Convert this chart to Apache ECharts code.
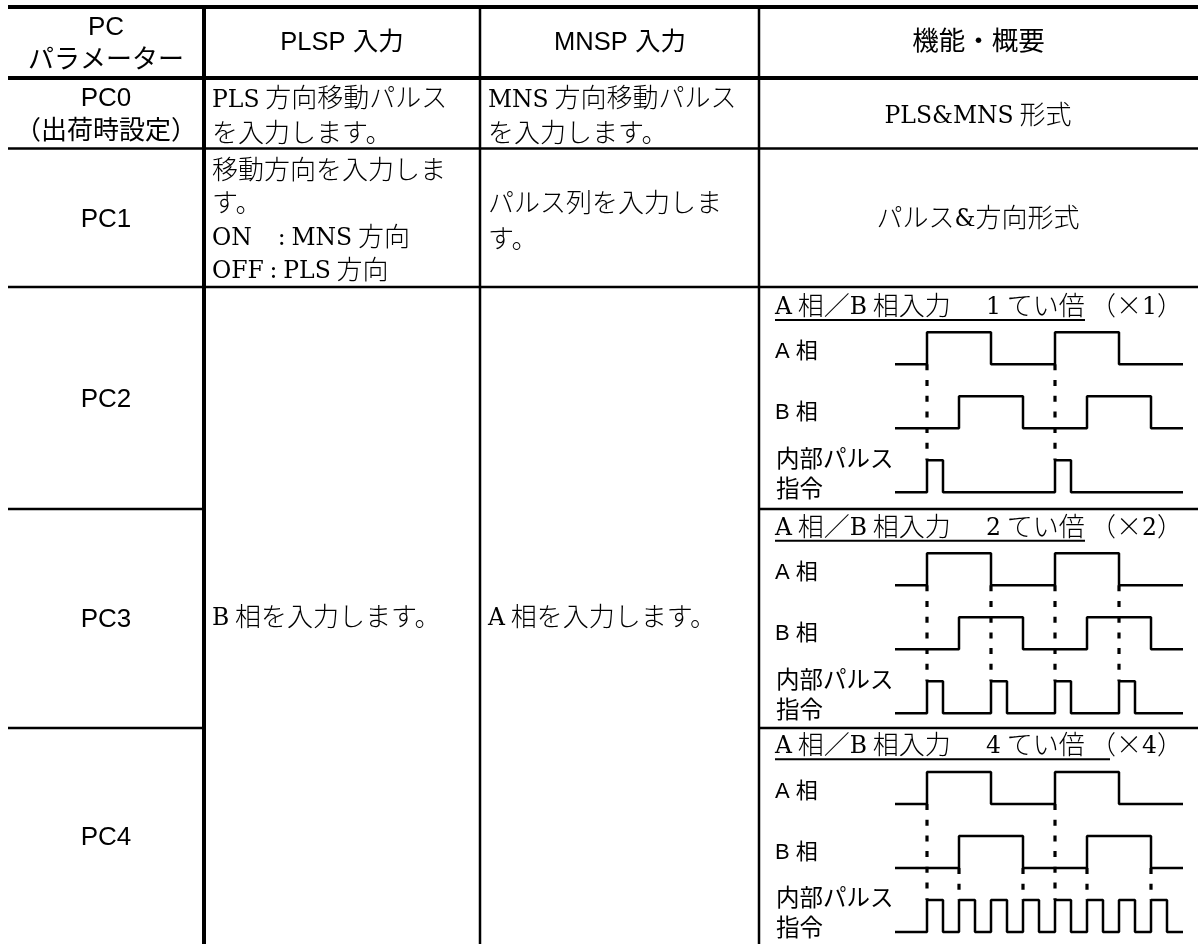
<!DOCTYPE html>
<html>
<head>
<meta charset="utf-8">
<style>
  html, body { margin: 0; padding: 0; background: #fff; }
  #main { width: 1198px; height: 944px; }
</style>
<script src="https://cdn.jsdelivr.net/npm/echarts@6/dist/echarts.min.js"></script>
</head>
<body>
<div id="main"></div>
<script>
// signals as [time, level] change points, one time unit = a quarter period of the A phase
const phaseA = [[-1, 0], [0, 1], [2, 0], [4, 1], [6, 0], [8, 0]];
const phaseB = [[-1, 0], [1, 1], [3, 0], [5, 1], [7, 0], [8, 0]];
const pulseX1 = [[-1, 0], [0, 1], [0.5, 0], [4, 1], [4.5, 0], [8, 0]];
const pulseX2 = [[-1, 0], [0, 1], [0.5, 0], [2, 1], [2.5, 0], [4, 1], [4.5, 0], [6, 1], [6.5, 0], [8, 0]];
const pulseX4 = [[-1, 0], [0, 1], [0.5, 0], [1, 1], [1.5, 0], [2, 1], [2.5, 0], [3, 1], [3.5, 0], [4, 1], [4.5, 0], [5, 1], [5.5, 0], [6, 1], [6.5, 0], [7, 1], [7.5, 0], [8, 0]];

// dotted guides: from which row they start
const guidesX1 = [0, 4];
const guidesX2 = [0, 2, 4, 6];
const guidesX4FromA = [0, 4];
const guidesX4FromB = [1, 3, 5, 7];

const titleLeft = "A 相／B 相入力";
const titleRate = ["1 てい倍", "2 てい倍", "4 てい倍"];
const titleSuffix = ["（×1）", "（×2）", "（×4）"];
const signalLabels = ["A 相", "B 相", "内部パルス", "指令"];

const headers = ["PC\nパラメーター", "PLSP 入力", "MNSP 入力", "機能・概要"];
const pcNames = ["PC0\n（出荷時設定）", "PC1", "PC2", "PC3", "PC4"];

const SANS = "'Liberation Sans','Noto Sans CJK JP'";
const CJK = "'Noto Sans CJK JP'";

const colX = [204, 480, 759];
const rowY = [78, 148.5, 287, 509, 728];
const diagramTop = [332.3, 553.3, 772];
const underlineY = [320, 540.7, 759.3];
const underlineEnd = [1085, 1085, 1110];

const chart = echarts.init(document.getElementById("main"));

function ln(x1, y1, x2, y2, w) {
  return { type: "line", shape: { x1, y1, x2, y2 }, style: { stroke: "#000", lineWidth: w } };
}
function sans(x, y, text, size, align) {
  return {
    type: "text", x, y,
    style: {
      text, fill: "#000", font: size + "px " + SANS,
      align: align || "center", verticalAlign: "middle", lineHeight: 33
    }
  };
}
// body text: latin runs go in a serif face, the rest in the CJK font
function serif(x, y, text, align, lineH) {
  const h = lineH || 33;
  return {
    type: "text", x, y: y - 1,
    style: {
      text: text.split("\n").map(s => s.replace(/[A-Za-z0-9&:]+/g, m => "{l|" + m + "}")).join("\n"),
      fill: "#000", fontFamily: CJK, fontSize: 26, fontWeight: 300,
      align: align || "center", verticalAlign: "middle", lineHeight: h,
      rich: {
        // top padding pushes the latin down onto the CJK baseline
        l: { fontFamily: "'DejaVu Serif'", fontSize: 23.5, fontWeight: 300, lineHeight: h, fill: "#000", padding: [6, 0, 0, 0] }
      }
    }
  };
}

const graphic = [
  ln(8, 7, 1198, 7, 4),
  ln(8, rowY[0], 1198, rowY[0], 4),
  ln(8, rowY[1], 1198, rowY[1], 2.5),
  ln(8, rowY[2], 1198, rowY[2], 2.5),
  ln(8, rowY[3], colX[0], rowY[3], 2.5),
  ln(colX[2], rowY[3], 1198, rowY[3], 2.5),
  ln(8, rowY[4], colX[0], rowY[4], 2.5),
  ln(colX[2], rowY[4], 1198, rowY[4], 2.5),
  ln(colX[0], 7, colX[0], 944, 4),
  ln(colX[1], 7, colX[1], 944, 2.5),
  ln(colX[2], 7, colX[2], 944, 2.5),

  sans(106, 44, headers[0], 26),
  sans(342, 43, headers[1], 25.5),
  sans(620, 43, headers[2], 25.5),
  sans(978.5, 43, headers[3], 26.5),

  sans(106, 115, pcNames[0], 26),
  sans(106, 220, pcNames[1], 26),
  sans(106, 400, pcNames[2], 26),
  sans(106, 620, pcNames[3], 26),
  sans(106, 838, pcNames[4], 26),

  serif(212, 116, "PLS 方向移動パルス\nを入力します。", "left", 35),
  serif(488, 116, "MNS 方向移動パルス\nを入力します。", "left", 35),
  serif(978, 115, "PLS&MNS 形式"),

  serif(212, 220, "移動方向を入力しま\nす。\nON\u3000: MNS 方向\nOFF : PLS 方向", "left", 33.5),
  serif(488, 221, "パルス列を入力しま\nす。", "left", 36),
  serif(978, 218, "パルス&方向形式"),

  serif(212, 617, "B 相を入力します。", "left"),
  serif(488, 617, "A 相を入力します。", "left")
];

// the three "function" cells
diagramTop.forEach((top, i) => {
  const lineAt = underlineY[i];
  graphic.push(serif(775, lineAt - 14, titleLeft, "left"));
  graphic.push(serif(986, lineAt - 14, titleRate[i], "left"));
  graphic.push(serif(1090, lineAt - 14, titleSuffix[i], "left"));
  graphic.push(ln(775, lineAt, underlineEnd[i], lineAt, 2));
  graphic.push(sans(775, top + 20, signalLabels[0], 22, "left"));
  graphic.push(sans(775, top + 81, signalLabels[1], 22, "left"));
  graphic.push(sans(776, top + 128, signalLabels[2], 23.5, "left"));
  graphic.push(sans(776, top + 158, signalLabels[3], 23.5, "left"));
});

// one grid per diagram: x is time, y stacks the three rows (pulse 0-1, B 2-3, A 4-5)
const grids = diagramTop.map(top => ({ left: 895, top, width: 288, height: 160, show: false }));
const xAxes = grids.map((g, i) => ({ type: "value", gridIndex: i, min: -1, max: 8, show: false }));
const yAxes = grids.map((g, i) => ({ type: "value", gridIndex: i, min: 0, max: 5, show: false }));

function wave(points, row, gridIndex) {
  return {
    type: "line", xAxisIndex: gridIndex, yAxisIndex: gridIndex, step: "end",
    data: points.map(p => [p[0], p[1] + row]),
    showSymbol: false, clip: false, animation: false, silent: true,
    lineStyle: { color: "#000", width: 2.5 }
  };
}
function guide(t, fromLevel, gridIndex) {
  return {
    type: "line", xAxisIndex: gridIndex, yAxisIndex: gridIndex,
    data: [[t, fromLevel], [t, 1]],
    showSymbol: false, clip: false, animation: false, silent: true,
    lineStyle: { color: "#000", width: 3.2, type: [6, 9.7], cap: "butt" }
  };
}

const series = [];
[pulseX1, pulseX2, pulseX4].forEach((pulse, i) => {
  series.push(wave(phaseA, 4, i), wave(phaseB, 2, i), wave(pulse, 0, i));
});
guidesX1.forEach(t => series.push(guide(t, 4, 0)));
guidesX2.forEach(t => series.push(guide(t, 4, 1)));
guidesX4FromA.forEach(t => series.push(guide(t, 4, 2)));
guidesX4FromB.forEach(t => series.push(guide(t, 2, 2)));

chart.setOption({
  animation: false,
  backgroundColor: "#fff",
  grid: grids,
  xAxis: xAxes,
  yAxis: yAxes,
  series,
  graphic
});
</script>
</body>
</html>
